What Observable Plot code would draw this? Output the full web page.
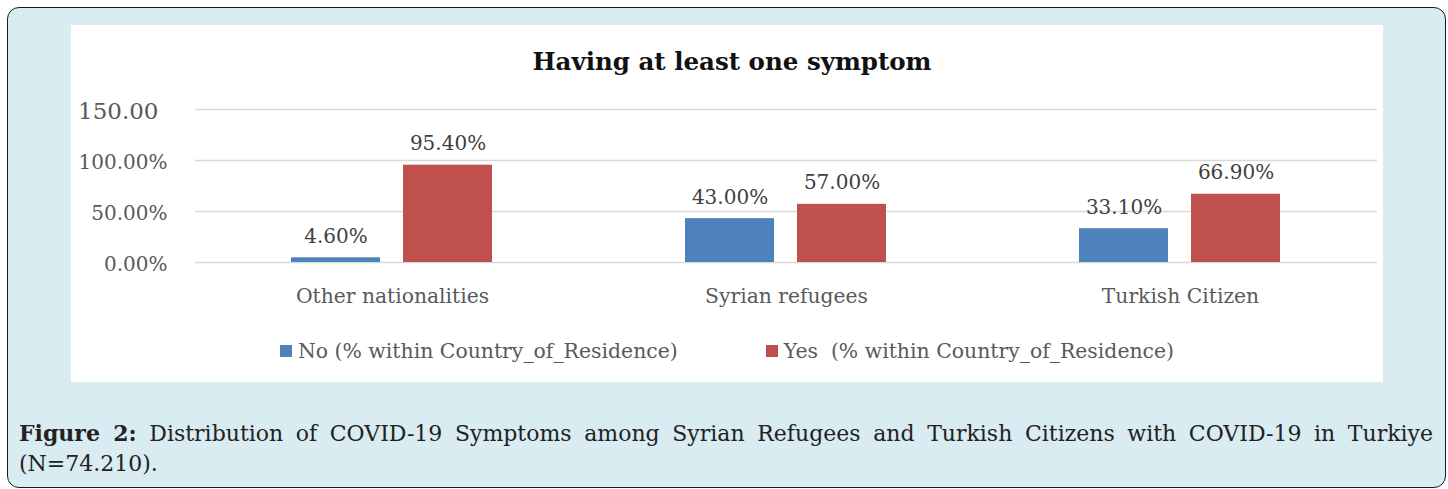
<!DOCTYPE html>
<html>
<head>
<meta charset="utf-8">
<script src="https://cdn.jsdelivr.net/npm/d3@7"></script>
<script src="https://cdn.jsdelivr.net/npm/@observablehq/plot@0.6"></script>
<style>
  html, body { margin: 0; padding: 0; background: #fff; }
  body { width: 1448px; height: 489px; overflow: hidden; position: relative; font-family: "DejaVu Serif", serif; }
  #panel { position: absolute; left: 7px; top: 7px; width: 1439px; height: 481px; box-sizing: border-box;
           background: #d9ecf1; border: 1.5px solid #1a1a1a; border-radius: 12px; }
  #chart { position: absolute; left: 71px; top: 25px; width: 1312px; height: 357px; background: #fff; }
  #title { position: absolute; left: 5px; top: 23px; width: 100%; text-align: center; font-weight: bold;
           font-size: 24.5px; line-height: 28px; color: #111; }
  #plot { position: absolute; left: 0; top: 65px; }
  #legend { position: absolute; left: 0; top: 314px; width: 100%; display: flex; justify-content: center;
            gap: 88px; font-size: 20.4px; line-height: 24px; color: #595959; }
  #legend .item { display: flex; align-items: center; }
  #legend .swatch { width: 12px; height: 12px; margin-right: 6px; }
  #caption { position: absolute; left: 19px; top: 418px; width: 1414px; font-size: 22px; line-height: 30px; color: #222; }
  #caption .l1 { text-align: justify; text-align-last: justify; }
</style>
</head>
<body>
<div id="panel"></div>
<div id="chart">
  <div id="title">Having at least one symptom</div>
  <div id="plot"></div>
  <div id="legend"></div>
</div>
<div id="caption">
  <div class="l1"><b>Figure 2:</b> Distribution of COVID-19 Symptoms among Syrian Refugees and Turkish Citizens with COVID-19 in Turkiye</div>
  <div>(N=74.210).</div>
</div>
<script>
// Share of cases with at least one symptom, by country of residence
const categories = ["Other nationalities", "Syrian refugees", "Turkish Citizen"];
const series = ["No (% within Country_of_Residence)", "Yes  (% within Country_of_Residence)"];
const noValues = [4.6, 43.0, 33.1];
const yesValues = [95.4, 57.0, 66.9];
const yTicks = [0, 50, 100];
const yTopTick = [150];
const yTickLabels = {0: "0.00%", 50: "50.00%", 100: "100.00%", 150: "150.00"};
const seriesColors = ["#4f81bd", "#c0504d"];

const rows = categories.flatMap((c, i) => [
  {category: c, series: series[0], value: noValues[i]},
  {category: c, series: series[1], value: yesValues[i]}
]);

const chart = Plot.plot({
  width: 1312,
  height: 225,
  marginLeft: 123,
  marginRight: 6,
  marginTop: 19,
  marginBottom: 53,
  style: {fontFamily: "DejaVu Serif", background: "transparent", overflow: "visible"},
  fx: {domain: categories, padding: 0, label: null},
  x: {domain: series, paddingInner: 0.205, paddingOuter: 0.861, axis: null},
  y: {domain: [0, 150], label: null},
  color: {domain: series, range: seriesColors},
  marks: [
    Plot.gridY([...yTicks, ...yTopTick], {stroke: "#d9d9d9", strokeOpacity: 1, strokeWidth: 1.6}),
    Plot.axisY(yTicks, {tickSize: 0, tickPadding: 28, fontSize: 20, fill: "#595959",
                        tickFormat: d => yTickLabels[d], dy: 2, label: null}),
    Plot.axisY(yTopTick, {tickSize: 0, tickPadding: 37, fontSize: 23, fill: "#595959",
                          tickFormat: d => yTickLabels[d], dy: 2, label: null}),
    Plot.barY(rows, {fx: "category", x: "series", y: "value", fill: "series"}),
    Plot.text(rows, {fx: "category", x: "series", y: "value", text: d => d.value.toFixed(2) + "%",
                     lineAnchor: "bottom", dy: -15, fontSize: 20, fill: "#404040"}),
    Plot.axisFx({anchor: "bottom", tickSize: 0, tickPadding: 26, fontSize: 20.3, fill: "#595959", label: null})
  ]
});
document.getElementById("plot").append(chart);

// Legend
const legend = document.getElementById("legend");
series.forEach((s, i) => {
  const item = document.createElement("div");
  item.className = "item";
  const sw = document.createElement("span");
  sw.className = "swatch";
  sw.style.background = seriesColors[i];
  const label = document.createElement("span");
  label.textContent = s;
  label.style.whiteSpace = "pre";
  item.append(sw, label);
  legend.append(item);
});
</script>
</body>
</html>
